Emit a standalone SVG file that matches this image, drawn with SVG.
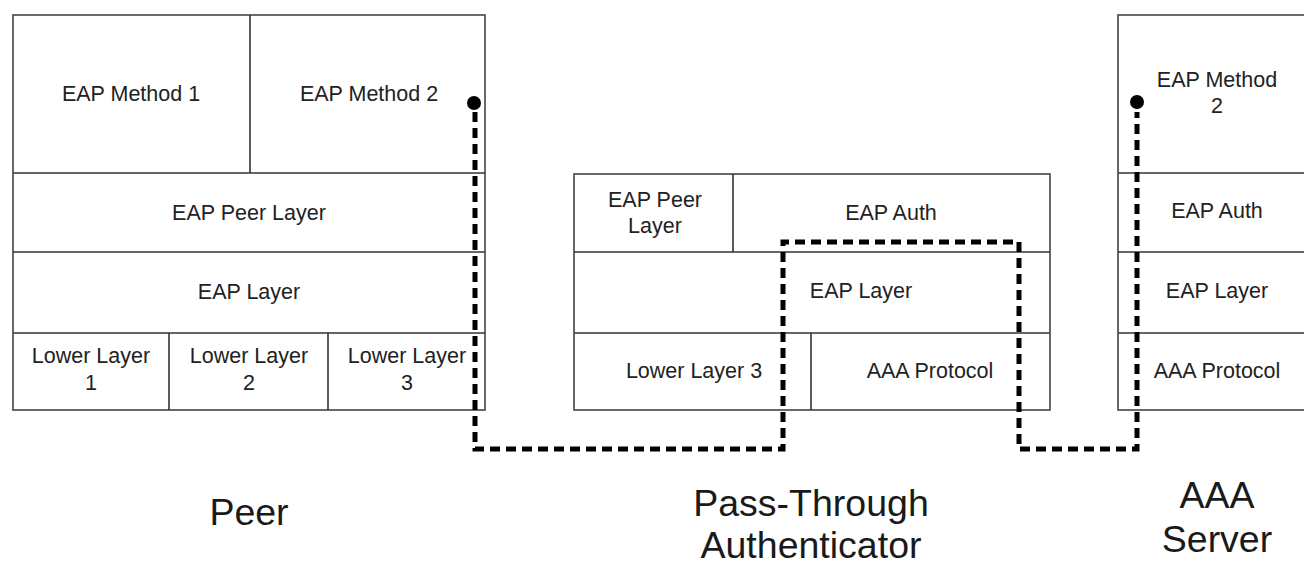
<svg xmlns="http://www.w3.org/2000/svg" width="1304" height="566" viewBox="0 0 1304 566">
<style>
.box{fill:#fff;stroke:#444;stroke-width:1.6}
.ln{stroke:#333;stroke-width:1.6;fill:none}
.t{font-family:"Liberation Sans",Arial,sans-serif;font-size:21.5px;fill:#222;text-anchor:middle}
.big{font-family:"Liberation Sans",Arial,sans-serif;font-size:37.5px;fill:#1a1a1a;text-anchor:middle}
.dash{fill:none;stroke:#000;stroke-width:5;stroke-dasharray:10 6}
</style>
<rect width="1304" height="566" fill="#fff"/>
<g id="peer">
<rect class="box" x="13" y="15" width="472" height="395"/>
<line class="ln" x1="250" y1="15" x2="250" y2="173"/>
<line class="ln" x1="13" y1="173" x2="485" y2="173"/>
<line class="ln" x1="13" y1="252" x2="485" y2="252"/>
<line class="ln" x1="13" y1="333" x2="485" y2="333"/>
<line class="ln" x1="169" y1="333" x2="169" y2="410"/>
<line class="ln" x1="328" y1="333" x2="328" y2="410"/>
<text class="t" x="131" y="101">EAP Method 1</text>
<text class="t" x="369" y="101">EAP Method 2</text>
<text class="t" x="249" y="220">EAP Peer Layer</text>
<text class="t" x="249" y="299">EAP Layer</text>
<text class="t" x="91" y="363">Lower Layer</text>
<text class="t" x="91" y="390">1</text>
<text class="t" x="249" y="363">Lower Layer</text>
<text class="t" x="249" y="390">2</text>
<text class="t" x="407" y="363">Lower Layer</text>
<text class="t" x="407" y="390">3</text>
<text class="big" x="249" y="525">Peer</text>
</g>
<g id="authenticator">
<rect class="box" x="574" y="174" width="476" height="236"/>
<line class="ln" x1="733" y1="174" x2="733" y2="252"/>
<line class="ln" x1="574" y1="252" x2="1050" y2="252"/>
<line class="ln" x1="574" y1="333" x2="1050" y2="333"/>
<line class="ln" x1="811" y1="333" x2="811" y2="410"/>
<text class="t" x="655" y="207">EAP Peer</text>
<text class="t" x="655" y="233">Layer</text>
<text class="t" x="891" y="220">EAP Auth</text>
<text class="t" x="861" y="298">EAP Layer</text>
<text class="t" x="694" y="378">Lower Layer 3</text>
<text class="t" x="930" y="378">AAA Protocol</text>
<text class="big" x="811" y="516">Pass-Through</text>
<text class="big" x="811" y="558">Authenticator</text>
</g>
<g id="server">
<rect class="box" x="1118" y="15" width="200" height="395"/>
<line class="ln" x1="1118" y1="173" x2="1304" y2="173"/>
<line class="ln" x1="1118" y1="252" x2="1304" y2="252"/>
<line class="ln" x1="1118" y1="333" x2="1304" y2="333"/>
<text class="t" x="1217" y="87">EAP Method</text>
<text class="t" x="1217" y="113">2</text>
<text class="t" x="1217" y="218">EAP Auth</text>
<text class="t" x="1217" y="298">EAP Layer</text>
<text class="t" x="1217" y="378">AAA Protocol</text>
<text class="big" x="1217" y="508">AAA</text>
<text class="big" x="1217" y="552">Server</text>
</g>
<g id="connectors">
<path class="dash" d="M475,112 V449 H783 V242 H1019 V449 H1137 V112"/>
<circle cx="474" cy="103" r="7" fill="#000"/>
<circle cx="1137" cy="102" r="7" fill="#000"/>
</g>
</svg>
